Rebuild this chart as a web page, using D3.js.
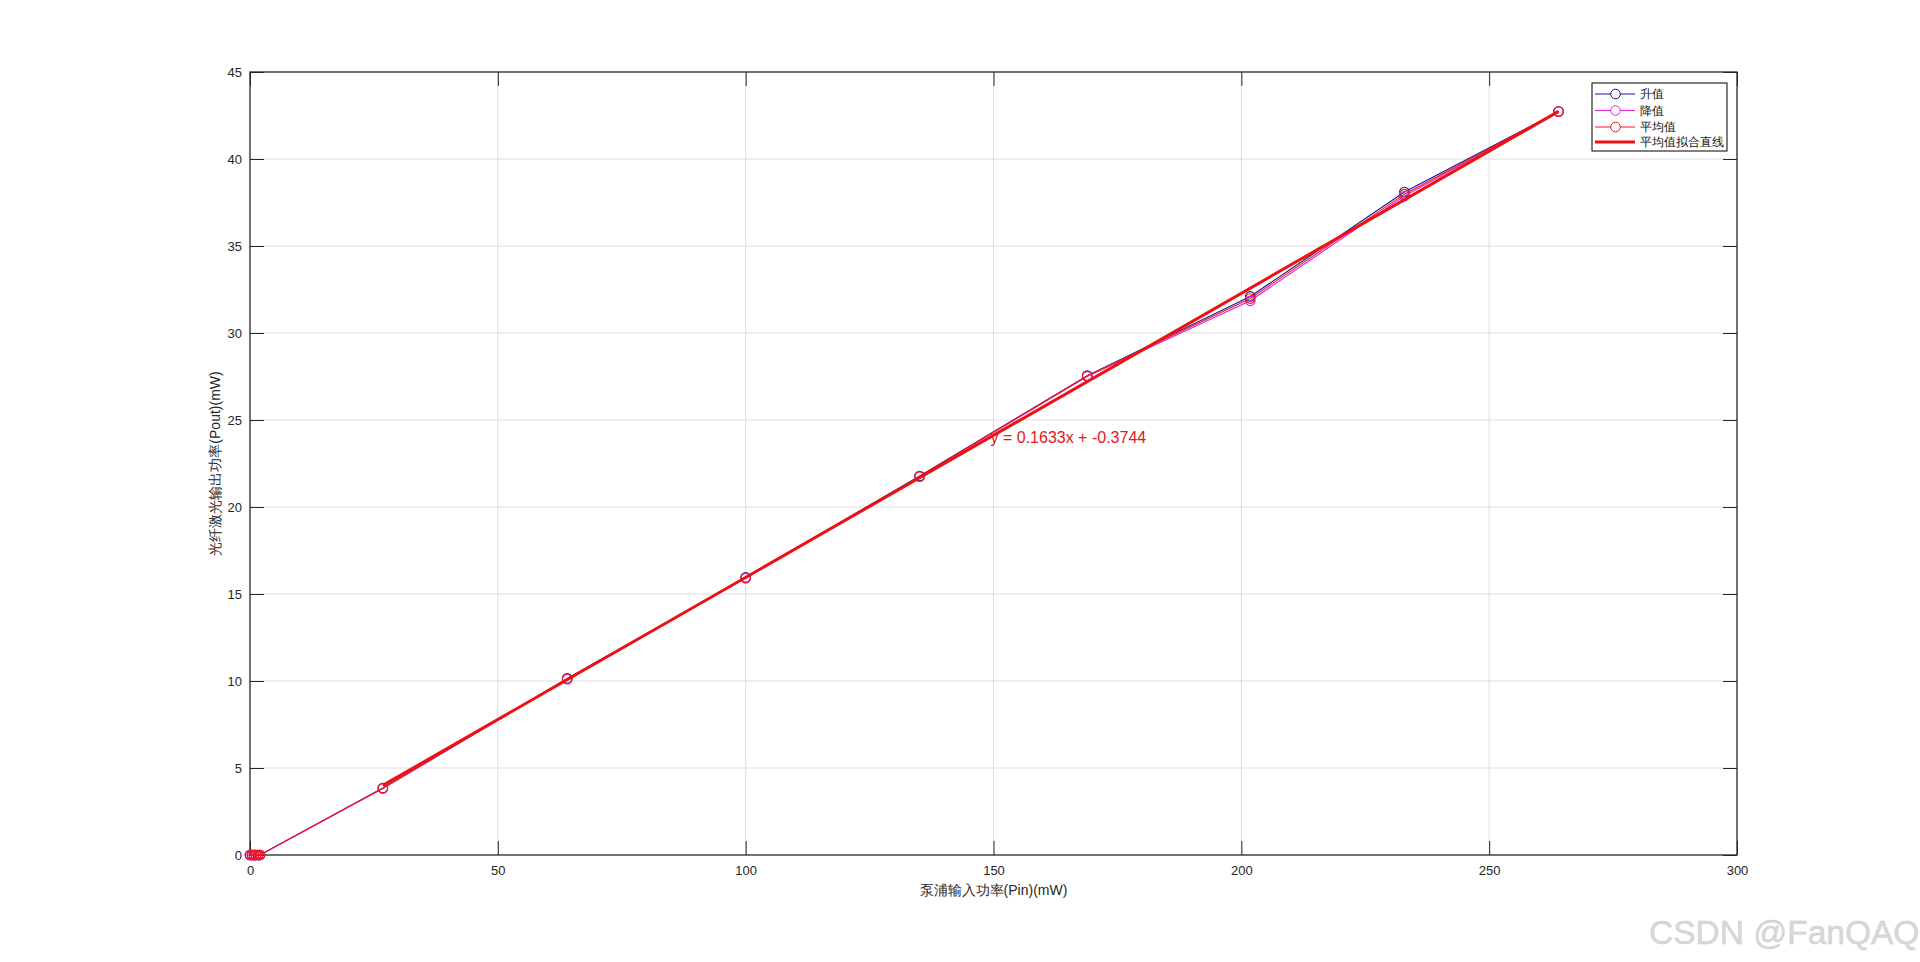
<!DOCTYPE html>
<html>
<head>
<meta charset="utf-8">
<script src="https://cdn.jsdelivr.net/npm/d3@7"></script>
<style>
  html, body { margin: 0; padding: 0; background: #fff; }
  svg { display: block; }
  text { font-family: "Liberation Sans", Arial, sans-serif; }
</style>
</head>
<body>
<svg id="chart" width="1920" height="962"></svg>
<script>
// ---- data ----
const pin      = [0, 0.4, 0.8, 1.2, 1.6, 2.0, 26.8, 64.0, 100.0, 135.1, 168.9, 201.8, 232.9, 264.0];
const upVals   = [0, 0, 0, 0, 0, 0, 3.85, 10.15, 15.95, 21.78, 27.55, 32.10, 38.10, 42.73];
const downVals = [0, 0, 0, 0, 0, 0, 3.82, 10.10, 15.90, 21.74, 27.50, 31.85, 37.87, 42.73];
const avgVals  = [0, 0, 0, 0, 0, 0, 3.84, 10.13, 15.93, 21.76, 27.53, 31.98, 37.98, 42.73];
const fitSlope = 0.1633;
const fitIntercept = -0.3744;
const fitRange = [26.8, 264.0];
const xTicks = [0, 50, 100, 150, 200, 250, 300];
const yTicks = [0, 5, 10, 15, 20, 25, 30, 35, 40, 45];
const seriesNames = ["升值", "降值", "平均值", "平均值拟合直线"];
const xLabel = "泵浦输入功率(Pin)(mW)";
const yLabel = "光纤激光输出功率(Pout)(mW)";
const eqText = "y = 0.1633x + -0.3744";
const eqPos = [150, 24];
const watermark = "CSDN @FanQAQ";

// ---- layout ----
const L = 250, R = 1737, T = 72, B = 855;
const svg = d3.select("#chart");
svg.append("rect").attr("width", 1920).attr("height", 962).attr("fill", "#fff");

const x = d3.scaleLinear().domain([0, 300]).range([L, R]);
const y = d3.scaleLinear().domain([0, 45]).range([B, T]);

const axisColor = "#262626";
const tickLen = 14;

// grid
const grid = svg.append("g");
grid.selectAll(".gx").data(xTicks.slice(1, -1)).join("line")
  .attr("x1", d => x(d)).attr("x2", d => x(d)).attr("y1", T).attr("y2", B)
  .attr("stroke", "#dedede").attr("stroke-width", 1);
grid.selectAll(".gy").data(yTicks.slice(1, -1)).join("line")
  .attr("y1", d => y(d)).attr("y2", d => y(d)).attr("x1", L).attr("x2", R)
  .attr("stroke", "#dedede").attr("stroke-width", 1);

function styleAxis(g) {
  g.select(".domain").remove();
  g.selectAll(".tick line").attr("stroke", axisColor).attr("stroke-width", 1);
  g.selectAll(".tick text").attr("fill", axisColor).attr("font-size", 13)
    .attr("font-family", "'Liberation Sans', Arial, sans-serif");
}

svg.append("g").attr("transform", `translate(0,${B})`)
  .call(d3.axisBottom(x).tickValues(xTicks).tickFormat(d3.format("d")).tickSize(-tickLen).tickPadding(11))
  .call(styleAxis);
svg.append("g").attr("transform", `translate(${L},0)`)
  .call(d3.axisLeft(y).tickValues(yTicks).tickFormat(d3.format("d")).tickSize(-tickLen).tickPadding(8))
  .call(styleAxis);
svg.append("g").attr("transform", `translate(0,${T})`)
  .call(d3.axisTop(x).tickValues(xTicks).tickFormat("").tickSize(-tickLen))
  .call(styleAxis);
svg.append("g").attr("transform", `translate(${R},0)`)
  .call(d3.axisRight(y).tickValues(yTicks).tickFormat("").tickSize(-tickLen))
  .call(styleAxis);

// box
svg.append("rect").attr("x", L).attr("y", T).attr("width", R - L).attr("height", B - T)
  .attr("fill", "none").attr("stroke", axisColor).attr("stroke-width", 1.3);

// series
const series = [
  { vals: upVals, color: "#14149a" },
  { vals: downVals, color: "#e020e0" },
  { vals: avgVals, color: "#ee1a1a" }
];
const line = d3.line().x(d => x(d[0])).y(d => y(d[1]));
series.forEach(s => {
  const pts = pin.map((p, i) => [p, s.vals[i]]);
  svg.append("path").datum(pts).attr("d", line)
    .attr("fill", "none").attr("stroke", s.color).attr("stroke-width", 1.1);
  svg.append("g").selectAll("circle").data(pts).join("circle")
    .attr("cx", d => x(d[0])).attr("cy", d => y(d[1])).attr("r", 4.8)
    .attr("fill", "none").attr("stroke", s.color).attr("stroke-width", 1.1);
});

// fit line
const fitPts = fitRange.map(v => [v, fitSlope * v + fitIntercept]);
svg.append("path").datum(fitPts).attr("d", line)
  .attr("fill", "none").attr("stroke", "#ee1111").attr("stroke-width", 3);

// equation
svg.append("text").attr("x", x(eqPos[0]) - 3).attr("y", y(eqPos[1]))
  .attr("dy", "0.35em").attr("fill", "#e01818").attr("font-size", 16)
  .text(eqText);

// axis labels
svg.append("text").attr("x", (L + R) / 2).attr("y", 895)
  .attr("text-anchor", "middle").attr("fill", axisColor).attr("font-size", 14)
  .attr("font-family", "'Noto Sans CJK SC', 'Liberation Sans', sans-serif")
  .text(xLabel);
svg.append("text").attr("transform", `translate(220,${(T + B) / 2}) rotate(-90)`)
  .attr("text-anchor", "middle").attr("fill", axisColor).attr("font-size", 14)
  .attr("font-family", "'Noto Sans CJK SC', 'Liberation Sans', sans-serif")
  .text(yLabel);

// legend
const lg = svg.append("g");
lg.append("rect").attr("x", 1592).attr("y", 83).attr("width", 135).attr("height", 68)
  .attr("fill", "#fff").attr("stroke", "#000").attr("stroke-width", 1);
const legRows = [94, 110.5, 127, 142];
const legColors = ["#14149a", "#e020e0", "#ee1a1a", "#ee1111"];
seriesNames.forEach((name, i) => {
  const yy = legRows[i];
  lg.append("line").attr("x1", 1595).attr("x2", 1635).attr("y1", yy).attr("y2", yy)
    .attr("stroke", legColors[i]).attr("stroke-width", i === 3 ? 3 : 1);
  if (i < 3) {
    lg.append("circle").attr("cx", 1615.5).attr("cy", yy).attr("r", 4.8)
      .attr("fill", "#fff").attr("stroke", legColors[i]).attr("stroke-width", 1);
  }
  lg.append("text").attr("x", 1640).attr("y", yy).attr("dy", "0.35em")
    .attr("font-size", 11.5).attr("fill", "#111").attr("font-weight", 300)
    .attr("font-family", "'Noto Sans CJK SC', sans-serif")
    .text(name);
});

// watermark
svg.append("text").attr("x", 1649).attr("y", 944)
  .attr("font-size", 33.5).attr("fill", "#d8d8d8")
  .attr("stroke", "#c8c8c8").attr("stroke-width", 0.4)
  .text(watermark);
</script>
</body>
</html>
